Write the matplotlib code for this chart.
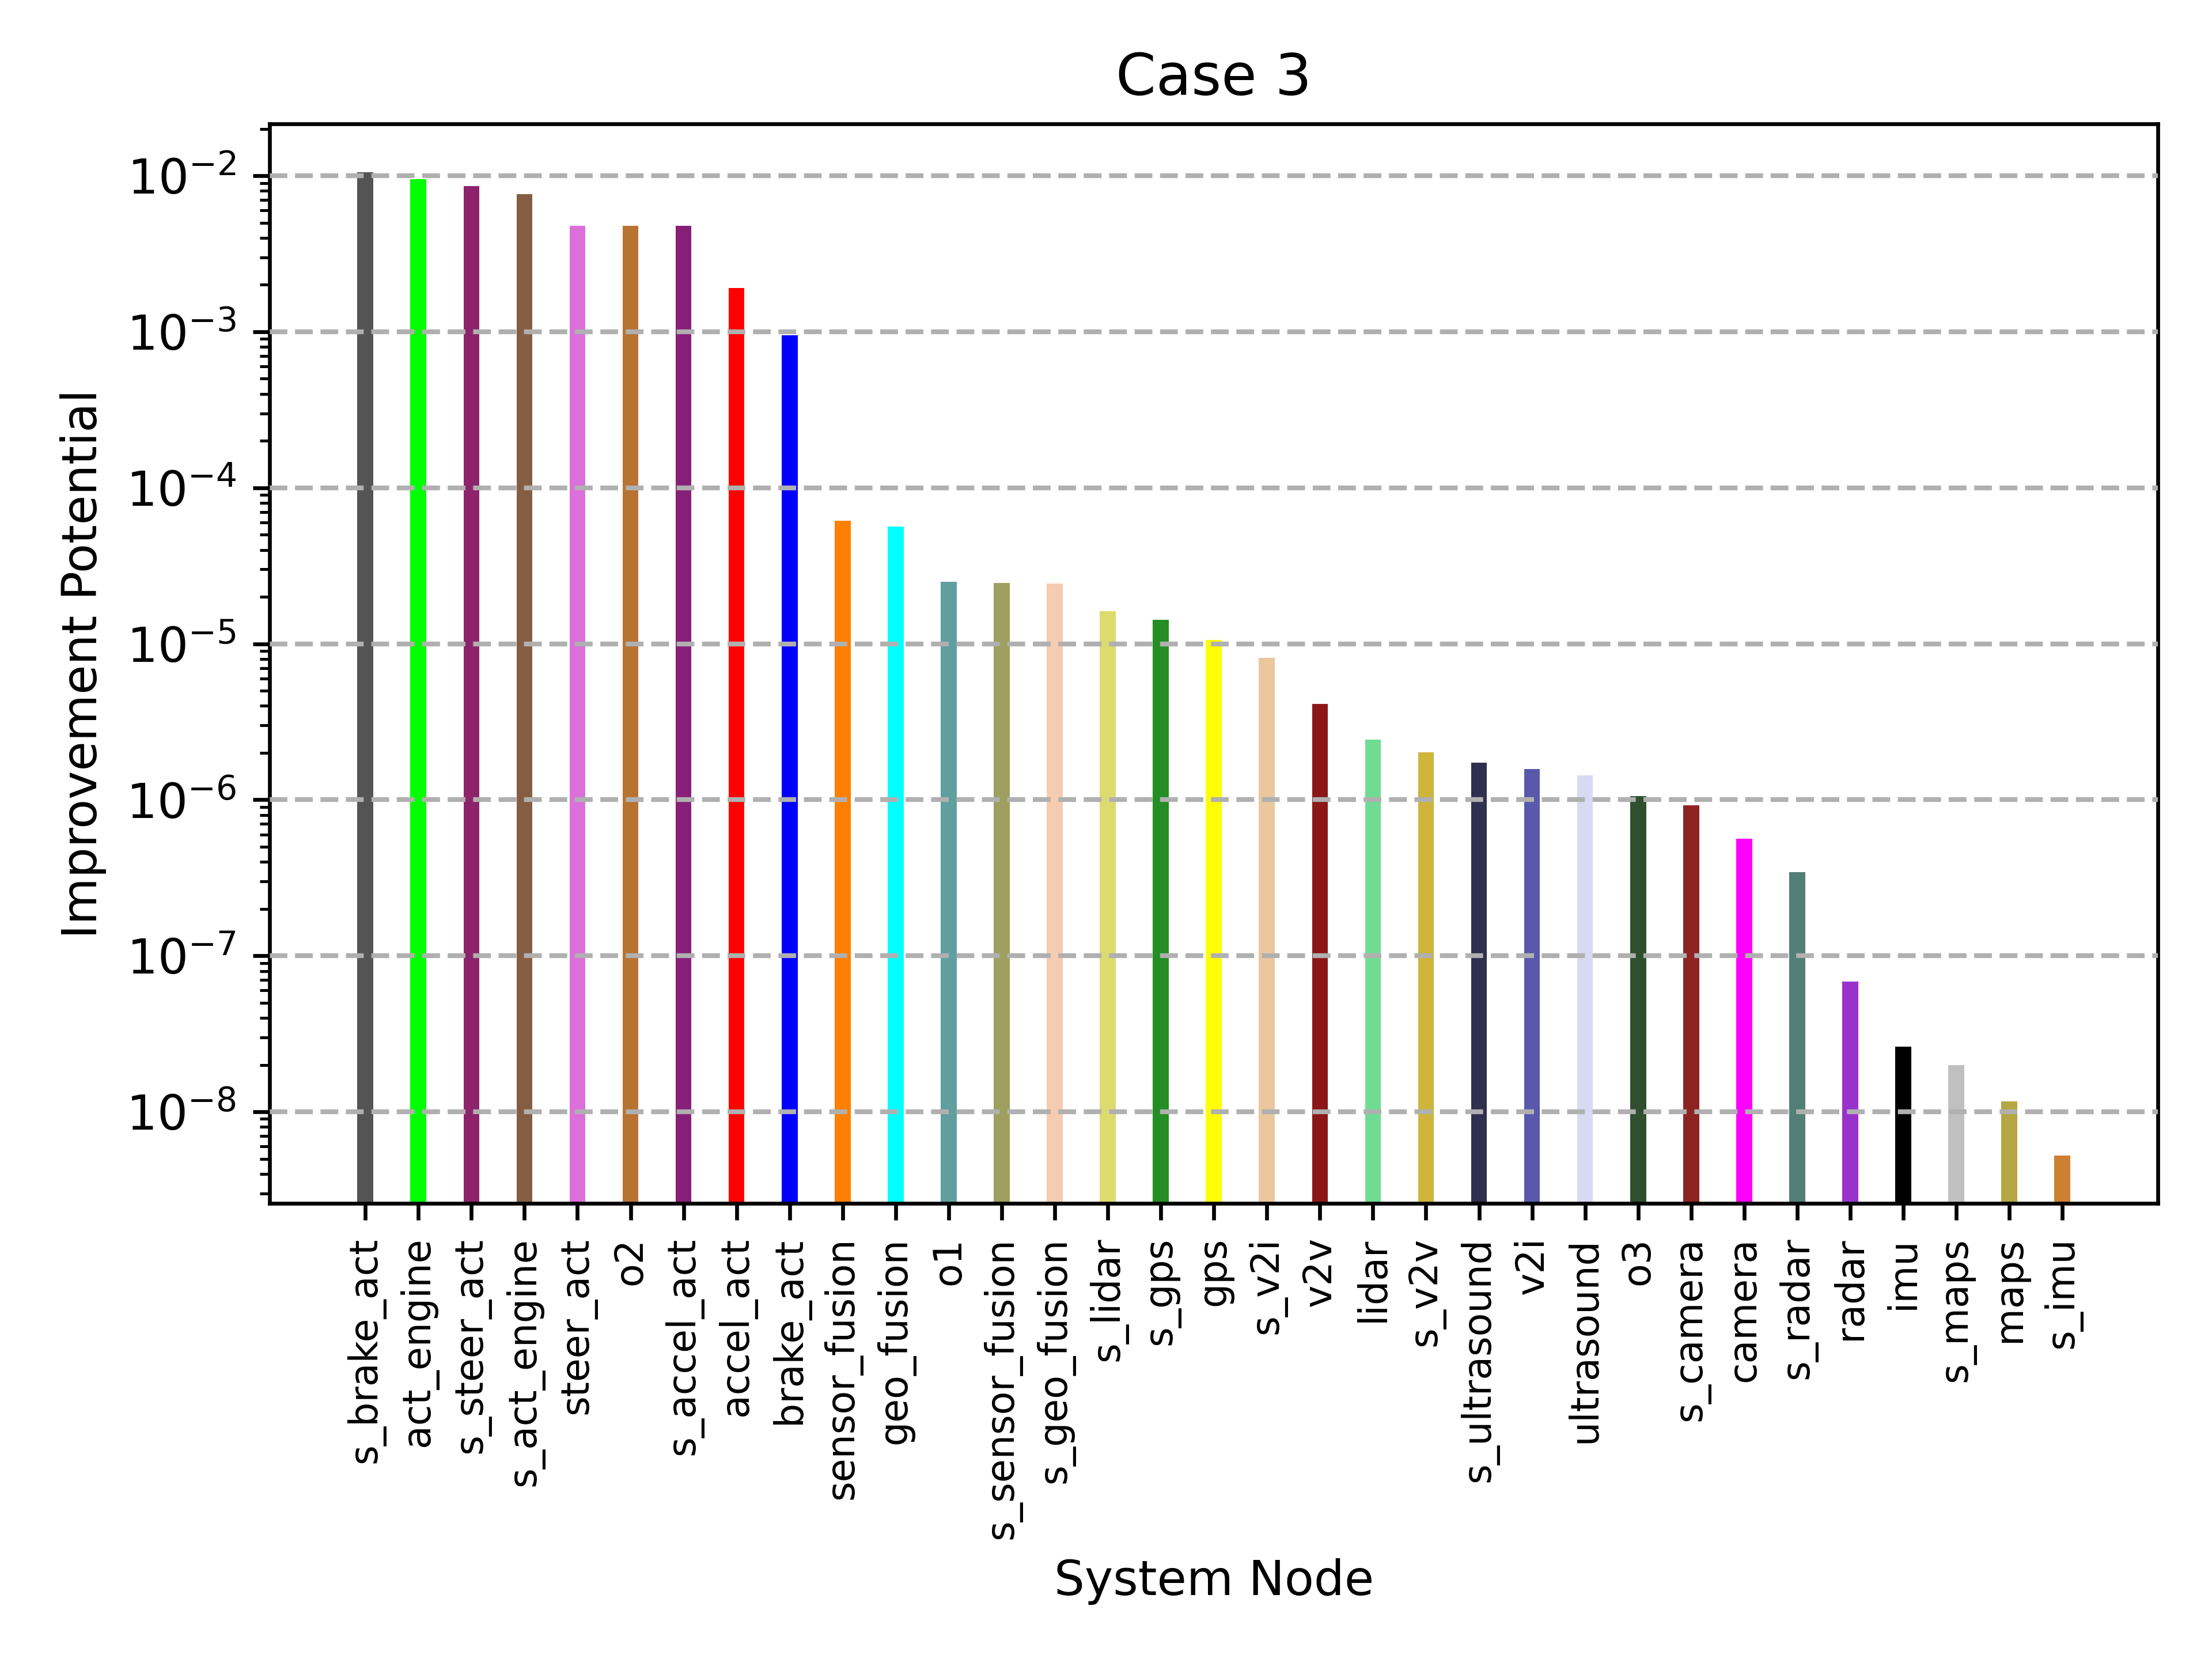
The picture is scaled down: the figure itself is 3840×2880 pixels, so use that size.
import matplotlib
matplotlib.use("Agg")
import matplotlib.pyplot as plt
import numpy as np

nodes = ["s_brake_act", "act_engine", "s_steer_act", "s_act_engine", "steer_act",
         "o2", "s_accel_act", "accel_act", "brake_act", "sensor_fusion",
         "geo_fusion", "o1", "s_sensor_fusion", "s_geo_fusion", "s_lidar",
         "s_gps", "gps", "s_v2i", "v2v", "lidar", "s_v2v", "s_ultrasound",
         "v2i", "ultrasound", "o3", "s_camera", "camera", "s_radar", "radar",
         "imu", "s_maps", "maps", "s_imu"]

potential = [1.05e-2, 9.5e-3, 8.57e-3, 7.65e-3, 4.76e-3,
             4.76e-3, 4.76e-3, 1.9e-3, 9.5e-4, 6.17e-5,
             5.67e-5, 2.49e-5, 2.45e-5, 2.43e-5, 1.62e-5,
             1.43e-5, 1.06e-5, 8.1e-6, 4.12e-6, 2.43e-6, 2.01e-6, 1.73e-6,
             1.57e-6, 1.44e-6, 1.06e-6, 9.2e-7, 5.62e-7, 3.43e-7, 6.84e-8,
             2.62e-8, 2.0e-8, 1.17e-8, 5.26e-9]

colors = ["#545454", "#00ff00", "#8e236b", "#855e42", "#db70db",
          "#b87333", "#871f78", "#ff0000", "#0000ff", "#ff7f00",
          "#00ffff", "#5f9f9f", "#9f9f5f", "#f5ccb0", "#dbdb70",
          "#238e23", "#ffff00", "#ebc79e", "#8c1717", "#70db93",
          "#cfb53b", "#2f2f4f", "#5959ab", "#d9d9f3", "#2f4f2f",
          "#8e2323", "#ff00ff", "#527f76", "#9932cd", "#000000",
          "#c0c0c0", "#b5a642", "#cd7f32"]

fig = plt.figure(figsize=(6.4, 4.8), dpi=600)
ax = fig.add_axes([0.122, 0.2745, 0.8535, 0.651])

x = np.arange(len(nodes))
ax.bar(x, potential, width=0.3, color=colors)
ax.set_yscale("log")
ax.set_ylim(2.58e-9, 2.16e-2)
ax.set_xlim(-1.8, len(nodes) - 1 + 1.8)
ax.set_xticks(x)
ax.set_xticklabels(nodes, rotation=90, fontsize=8)
ax.grid(axis="y", which="major", linestyle="--", color="#b0b0b0", linewidth=1)
ax.set_axisbelow(False)
ax.set_title("Case 3", fontsize=12)
ax.set_xlabel("System Node", fontsize=10)
ax.set_ylabel("Improvement Potential", fontsize=10)

fig.savefig("out.png", dpi=600)
